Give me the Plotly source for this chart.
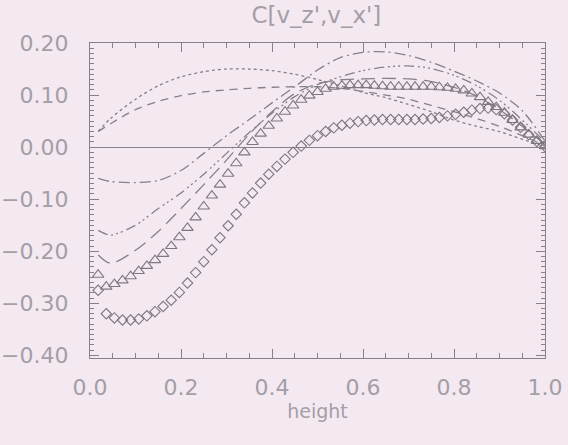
import plotly.graph_objects as go

# Grid of the marker profiles (i/56, i = 1..56)
grid_x = [i / 56 for i in range(1, 57)]

triangle_y = [
    -0.245, -0.268, -0.263, -0.256, -0.248, -0.238, -0.228, -0.217, -0.205, -0.190,
    -0.173, -0.155, -0.135, -0.114, -0.093, -0.072, -0.051, -0.031, -0.010, 0.010,
    0.026, 0.041, 0.055, 0.068, 0.080, 0.091, 0.099, 0.106, 0.112, 0.116,
    0.118, 0.119, 0.119, 0.119, 0.118, 0.117, 0.116, 0.116, 0.116, 0.116,
    0.116, 0.116, 0.115, 0.114, 0.112, 0.109, 0.103, 0.096, 0.087, 0.077,
    0.066, 0.052, 0.038, 0.024, 0.012, 0.002,
]

diamond_y = [
    -0.275, -0.320, -0.328, -0.332, -0.332, -0.330, -0.324, -0.316, -0.306, -0.294,
    -0.279, -0.261, -0.241, -0.220, -0.197, -0.174, -0.151, -0.129, -0.107, -0.088,
    -0.069, -0.052, -0.037, -0.023, -0.010, 0.002, 0.013, 0.022, 0.030, 0.037,
    0.042, 0.046, 0.049, 0.051, 0.052, 0.053, 0.053, 0.053, 0.053, 0.053,
    0.054, 0.055, 0.057, 0.060, 0.063, 0.067, 0.071, 0.074, 0.075, 0.072,
    0.064, 0.052, 0.038, 0.024, 0.011, 0.001,
]

# Sample heights of the smooth line profiles
line_x = [0.018, 0.045, 0.10, 0.15, 0.20, 0.25, 0.30, 0.35, 0.40, 0.45, 0.50,
          0.55, 0.60, 0.65, 0.70, 0.75, 0.80, 0.85, 0.90, 0.95, 1.00]

dotted_y = [0.030, 0.055, 0.092, 0.118, 0.135, 0.145, 0.150, 0.150, 0.147, 0.140, 0.130,
            0.118, 0.105, 0.095, 0.082, 0.068, 0.052, 0.040, 0.030, 0.015, 0.002]

dashed_y = [0.030, 0.045, 0.072, 0.088, 0.099, 0.106, 0.110, 0.113, 0.115, 0.116, 0.116,
            0.113, 0.107, 0.100, 0.092, 0.080, 0.068, 0.055, 0.040, 0.022, 0.003]

longdash_y = [-0.207, -0.223, -0.198, -0.162, -0.118, -0.072, -0.025, 0.025, 0.068, 0.103, 0.122,
              0.129, 0.131, 0.132, 0.131, 0.126, 0.115, 0.098, 0.072, 0.040, 0.005]

dashdotdot_y = [-0.160, -0.169, -0.150, -0.118, -0.088, -0.052, -0.012, 0.028, 0.065, 0.097, 0.120,
                0.135, 0.147, 0.154, 0.156, 0.151, 0.138, 0.118, 0.090, 0.052, 0.010]

dashdot_y = [-0.060, -0.066, -0.068, -0.064, -0.045, -0.012, 0.022, 0.053, 0.085, 0.116, 0.148,
             0.172, 0.182, 0.183, 0.176, 0.163, 0.146, 0.127, 0.104, 0.070, 0.012]

x_ticks = [0.0, 0.2, 0.4, 0.6, 0.8, 1.0]
y_ticks = [-0.40, -0.30, -0.20, -0.10, 0.00, 0.10, 0.20]

BG = "#f4e9f1"
INK = "#858089"
TEXT = "#a39ea6"
FONT = "DejaVu Sans"

fig = go.Figure()

line_specs = [
    (dotted_y, "dot", 1.3),
    (dashed_y, "8px,6px", 1.3),
    (longdash_y, "14px,7px", 1.3),
    (dashdotdot_y, "10px,4px,2px,3px,2px,3px,2px,4px", 1.3),
    (dashdot_y, "11px,4px,2px,4px", 1.3),
]
for ys, dash, w in line_specs:
    fig.add_trace(go.Scatter(
        x=line_x, y=ys, mode="lines",
        line=dict(color=INK, width=w, dash=dash, shape="spline", smoothing=0.8),
        showlegend=False, hoverinfo="skip",
    ))

fig.add_trace(go.Scatter(
    x=grid_x, y=triangle_y, mode="markers",
    marker=dict(symbol="triangle-up-open", size=10, color="#7d7782",
                line=dict(width=1.1, color="#7d7782")),
    showlegend=False,
))
fig.add_trace(go.Scatter(
    x=grid_x, y=diamond_y, mode="markers",
    marker=dict(symbol="diamond-open", size=8, color="#7d7782",
                line=dict(width=1.1, color="#7d7782")),
    showlegend=False,
))

axis_common = dict(
    showline=True, mirror="allticks", linecolor=INK, linewidth=1.4,
    ticks="inside", tickcolor=INK, tickwidth=1.2,
    showgrid=False, automargin=False,
    tickfont=dict(family=FONT, size=22, color=TEXT),
)

fig.update_layout(
    width=568, height=445,
    margin=dict(l=90, r=23, t=43, b=87),
    paper_bgcolor=BG, plot_bgcolor=BG,
    title=dict(text="C[v_z',v_x']", x=0.557, xanchor="center", y=0.966, yanchor="middle",
               font=dict(family=FONT, size=23, color=TEXT)),
    xaxis=dict(
        range=[0, 1], tickvals=x_ticks, ticktext=[f"{v:.1f}" for v in x_ticks],
        ticklen=9, ticklabelstandoff=9,
        minor=dict(dtick=0.05, ticklen=5, ticks="inside", tickcolor=INK, tickwidth=1),
        zeroline=False,
        title=dict(text="height", font=dict(family=FONT, size=19, color=TEXT), standoff=6),
        **axis_common,
    ),
    yaxis=dict(
        range=[-0.405, 0.20], tickvals=y_ticks,
        ticktext=[f"{v:.2f}".replace("-", "\u2212") for v in y_ticks],
        ticklen=9, ticklabelstandoff=16,
        minor=dict(dtick=0.01, ticklen=4, ticks="inside", tickcolor=INK, tickwidth=1),
        zeroline=True, zerolinecolor=INK, zerolinewidth=1.3,
        **axis_common,
    ),
)

fig.write_html("out.html")
